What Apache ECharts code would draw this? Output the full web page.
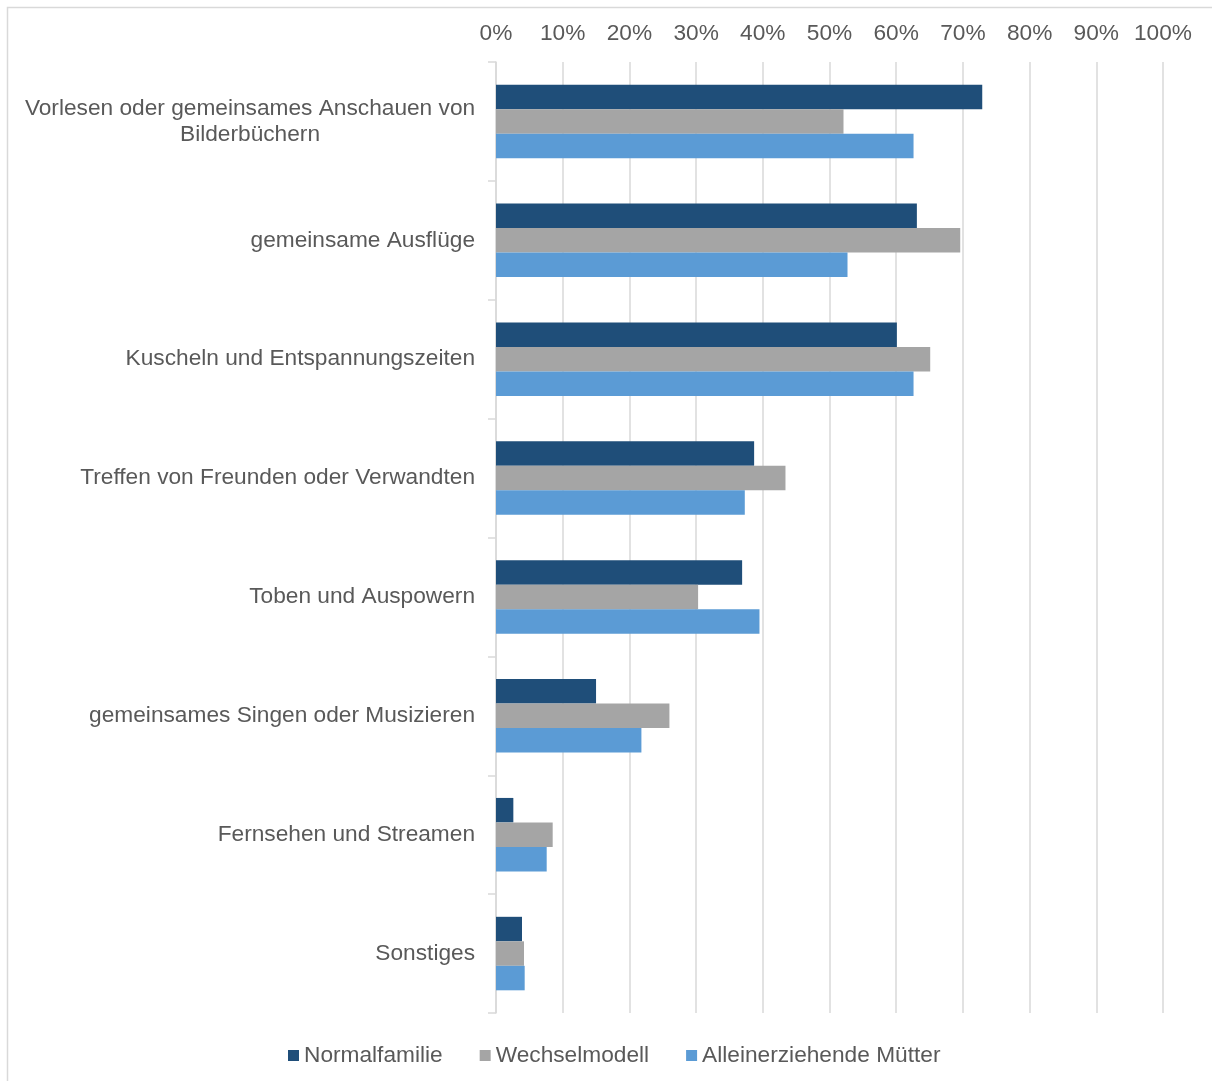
<!DOCTYPE html>
<html>
<head>
<meta charset="utf-8">
<script src="https://cdn.jsdelivr.net/npm/echarts@6/dist/echarts.min.js"></script>
<style>
  html, body { margin: 0; padding: 0; background: #fff; }
  #chart { width: 1212px; height: 1081px; }
</style>
</head>
<body>
<div id="chart"></div>
<script>
// Kategorien (von oben nach unten)
var categories = [
  'Vorlesen oder gemeinsames Anschauen von\nBilderbüchern',
  'gemeinsame Ausflüge',
  'Kuscheln und Entspannungszeiten',
  'Treffen von Freunden oder Verwandten',
  'Toben und Auspowern',
  'gemeinsames Singen oder Musizieren',
  'Fernsehen und Streamen',
  'Sonstiges'
];
var seriesNames = ['Normalfamilie', 'Wechselmodell', 'Alleinerziehende Mütter'];
// Anteile in Prozent
var normalfamilie = [72.9, 63.1, 60.1, 38.7, 36.9, 15.0, 2.6, 3.9];
var wechselmodell = [52.1, 69.6, 65.1, 43.4, 30.3, 26.0, 8.5, 4.2];
var alleinerziehend = [62.6, 52.7, 62.6, 37.3, 39.5, 21.8, 7.6, 4.3];
var xTicks = [0, 10, 20, 30, 40, 50, 60, 70, 80, 90, 100];

var colors = ['#1f4e79', '#a5a5a5', '#5b9bd5'];
var textColor = '#595959';
var fontFamily = 'Liberation Sans, Arial, sans-serif';
var fs = 22.7;

var chart = echarts.init(document.getElementById('chart'));

function makeBar(name, data) {
  return {
    name: name,
    type: 'bar',
    data: data,
    barWidth: 24.5,
    barGap: '0%',
    barCategoryGap: '38%',
    itemStyle: { borderWidth: 0 }
  };
}

var option = {
  animation: false,
  color: colors,
  textStyle: { fontFamily: fontFamily },
  graphic: [{
    type: 'rect',
    shape: { x: 7.5, y: 7.5, width: 1400, height: 1400 },
    style: { fill: 'none', stroke: '#d9d9d9', lineWidth: 1.5 },
    silent: true
  }],
  legend: {
    bottom: 9,
    left: 283,
    itemWidth: 11,
    itemHeight: 11,
    itemGap: 37,
    icon: 'rect',
    textStyle: { color: textColor, fontSize: fs, fontFamily: fontFamily, padding: [0, 0, 0, 0] },
    data: seriesNames
  },
  grid: {
    left: 496,
    right: 49,
    top: 62,
    bottom: 68,
    containLabel: false
  },
  xAxis: {
    type: 'value',
    position: 'top',
    min: 0,
    max: 100,
    interval: 10,
    axisLine: { show: false },
    axisTick: { show: false },
    splitLine: { lineStyle: { color: '#d9d9d9', width: 1.5 } },
    axisLabel: {
      color: textColor,
      fontSize: fs,
      margin: 17,
      formatter: function (v) { return xTicks.indexOf(v) >= 0 ? v + '%' : ''; }
    }
  },
  yAxis: {
    type: 'category',
    inverse: true,
    data: categories,
    axisLine: { show: true, lineStyle: { color: '#d9d9d9', width: 1.5 } },
    axisTick: { show: true, length: 8, lineStyle: { color: '#d9d9d9', width: 1.5 } },
    axisLabel: {
      color: textColor,
      fontSize: fs,
      margin: 21,
      lineHeight: 26,
      formatter: function (v) {
        if (v.indexOf('\n') >= 0) {
          return v.split('\n').map(function (s) { return '{c|' + s + '}'; }).join('\n');
        }
        return v;
      },
      rich: {
        c: { width: 450, align: 'center', fontSize: fs, color: textColor, lineHeight: 26 }
      }
    }
  },
  series: [
    makeBar(seriesNames[0], normalfamilie),
    makeBar(seriesNames[1], wechselmodell),
    makeBar(seriesNames[2], alleinerziehend)
  ]
};

chart.setOption(option);
</script>
</body>
</html>
